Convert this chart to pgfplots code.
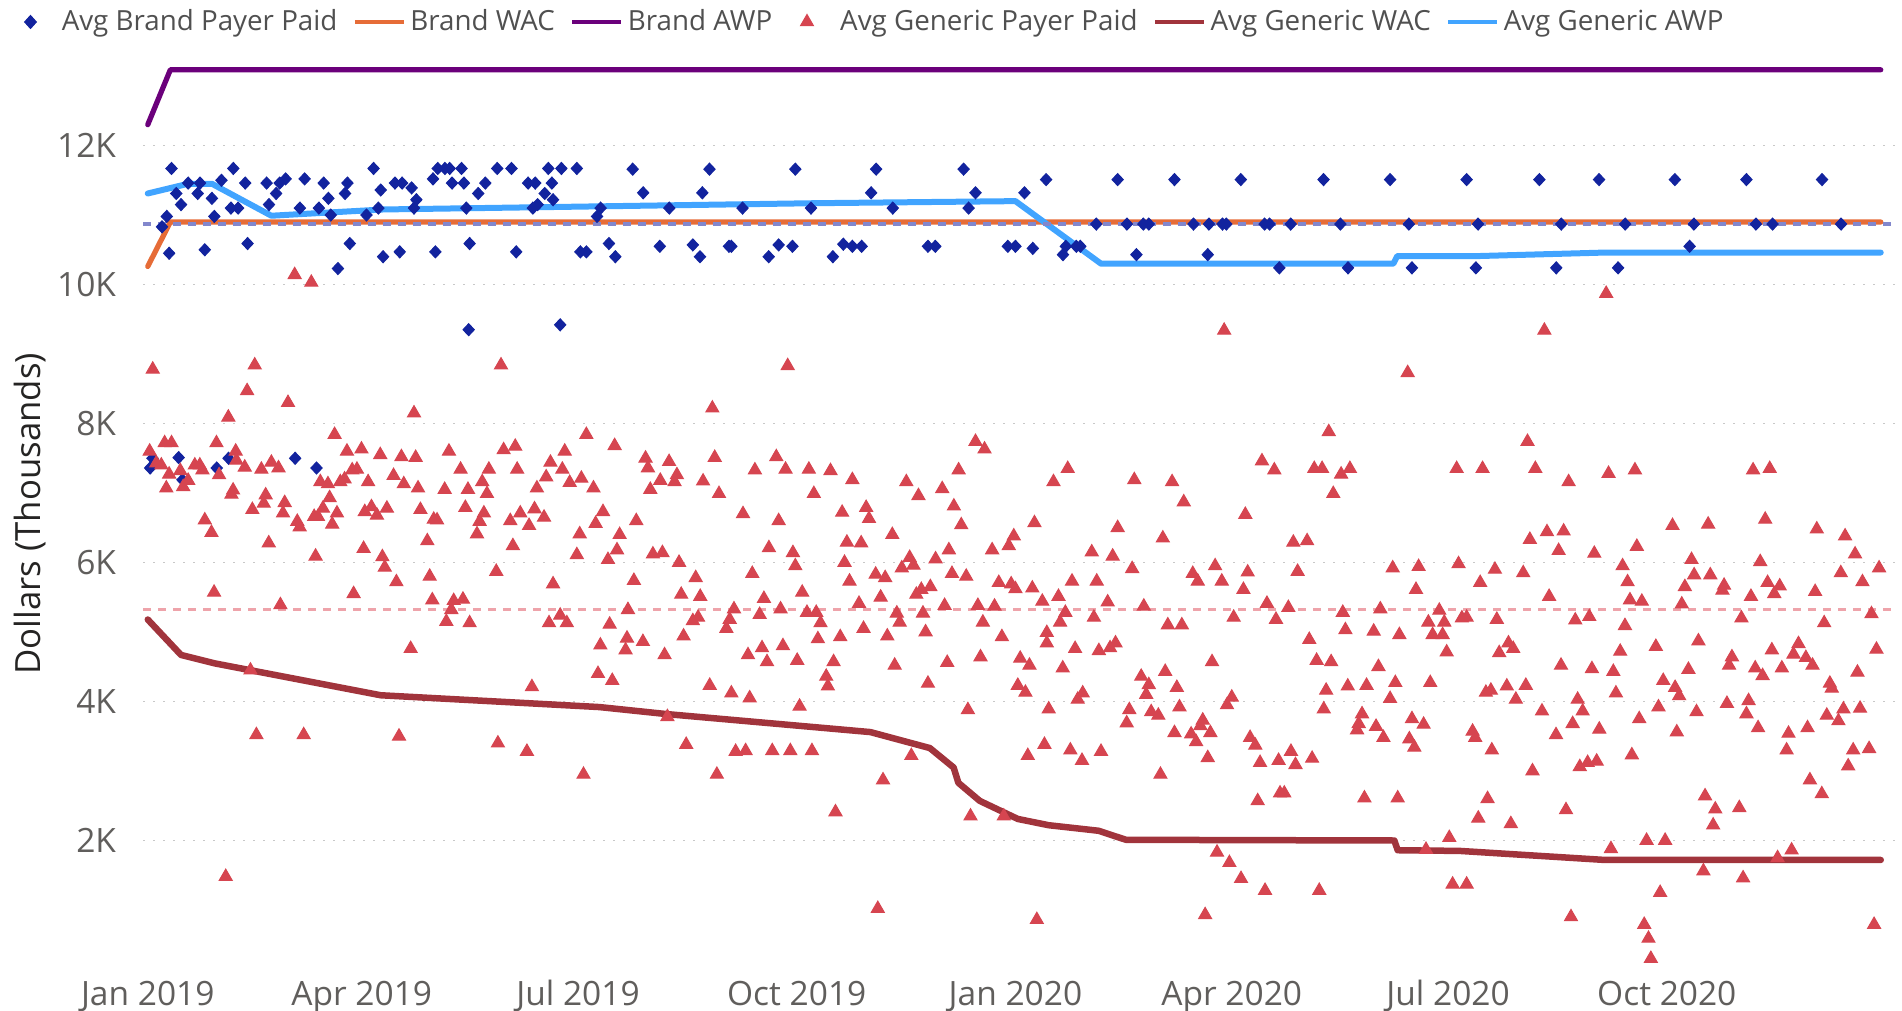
\documentclass[border=0pt]{standalone}
\usepackage{fontspec}
\setmainfont{Open Sans}
\usepackage{pgfplots}
\pgfplotsset{compat=1.18}
\definecolor{navyd}{HTML}{12239E}
\definecolor{orangeb}{HTML}{E66C37}
\definecolor{purpleb}{HTML}{6B007B}
\definecolor{redt}{HTML}{D64550}
\definecolor{darkred}{HTML}{A1343C}
\definecolor{lightblue}{HTML}{41A4FF}
\definecolor{avgblue}{HTML}{8287CC}
\definecolor{avgpink}{HTML}{EEA3AA}
\definecolor{tickgray}{HTML}{605E5C}
\definecolor{legendgray}{HTML}{505050}
\definecolor{titlegray}{HTML}{252423}
\definecolor{gridgray}{HTML}{C8C8C8}
\pgfplotsset{
  legline/.style={legend image code/.code={\draw[##1] (0pt,0pt) -- (19.5pt,0pt);}},
  legdiamond/.style={legend image code/.code={\path[draw=none,fill=none] (0pt,-3pt) rectangle (16.5pt,3pt); \draw[##1] plot coordinates {(6pt,0pt)};}},
  legtriangle/.style={legend image code/.code={\path[draw=none,fill=none] (0pt,-3pt) rectangle (19pt,3pt); \draw[##1] plot coordinates {(7.7pt,0pt)};}},
}
\begin{document}
\begin{tikzpicture}
\path[use as bounding box] (0,0) rectangle (760.8pt,404.4pt);
\begin{axis}[
  at={(57.2pt,12.6pt)}, anchor=south west,
  width=700.8pt, height=372.5pt, scale only axis,
  xmin=-2, xmax=735, ymin=0, ymax=13.4,
  clip=false,
  axis line style={draw=none},
  tick style={draw=none}, major tick length=0pt,
  xtick={0,90,181,273,365,456,547,639},
  xticklabels={Jan 2019,Apr 2019,Jul 2019,Oct 2019,Jan 2020,Apr 2020,Jul 2020,Oct 2020},
  ytick={2,4,6,8,10,12},
  yticklabels={2K,4K,6K,8K,10K,12K},
  ymajorgrids,
  grid style={line width=0.7pt, dash pattern=on 0.7pt off 3.3pt, color=gridgray},
  xticklabel style={anchor=base, yshift=-10.4pt, font=\fontsize{13.4}{16}\selectfont, text=tickgray},
  yticklabel style={anchor=east, inner sep=0pt, xshift=-10.6pt, font=\fontsize{13.4}{16}\selectfont, text=tickgray},
  ylabel={Dollars (Thousands)},
  ylabel style={at={(axis description cs:-0.0645,0.5)}, anchor=center, font=\fontsize{13.9}{16}\selectfont, text=titlegray},
  legend columns=-1,
  legend style={at={(0,1)}, anchor=west, xshift=-51pt, yshift=10.5pt, draw=none, fill=none,
    font=\fontsize{11.1}{13}\selectfont, text=legendgray, inner sep=0pt, outer sep=0pt,
    /tikz/column sep=0pt, /tikz/every even column/.append style={column sep=4.2pt},
    cells={anchor=west}, nodes={inner sep=2pt}},
]
% legend entries
\addlegendimage{only marks, mark=diamond*, mark size=2.6pt, mark options={xscale=1.2}, color=navyd, legdiamond}
\addlegendentry{Avg Brand Payer Paid}
\addlegendimage{line width=1.5pt, color=orangeb, legline}
\addlegendentry{Brand WAC}
\addlegendimage{line width=1.5pt, color=purpleb, legline}
\addlegendentry{Brand AWP}
\addlegendimage{only marks, mark=triangle*, mark size=3pt, color=redt, legtriangle}
\addlegendentry{Avg Generic Payer Paid}
\addlegendimage{line width=1.5pt, color=darkred, legline}
\addlegendentry{Avg Generic WAC}
\addlegendimage{line width=1.5pt, color=lightblue, legline}
\addlegendentry{Avg Generic AWP}

% solid lines
\addplot[forget plot, color=purpleb, line width=2.1pt, line cap=round, line join=round] coordinates {(0,12.30) (9.5,13.09) (729,13.09)};
\addplot[forget plot, color=orangeb, line width=2.1pt, line cap=round, line join=round] coordinates {(0,10.26) (9.5,10.90) (729,10.90)};
\addplot[forget plot, color=lightblue, line width=2.4pt, line cap=round, line join=round] coordinates {
(0,11.31) (17,11.45) (27,11.45) (52,10.99) (99,11.08) (200,11.13) (280,11.17) (365,11.20) (401,10.30) (524,10.30) (525.6,10.41) (560,10.41) (613,10.46) (729,10.46)};
\addplot[forget plot, color=darkred, line width=2.6pt, line cap=round, line join=round] coordinates {
(0,5.18) (14,4.67) (28,4.55) (98,4.09) (190,3.92) (218,3.82) (304,3.56) (329,3.33) (339,3.05) (341,2.83) (350,2.57) (366,2.31) (379,2.22) (400,2.14) (411.5,2.01) (524.4,2.00) (525.8,1.86) (552,1.85) (613,1.72) (729,1.72)};
% average reference lines
\addplot[forget plot, color=avgblue, line width=1.3pt, dash pattern=on 3.2pt off 2.8pt] coordinates {(-2,10.87) (735,10.87)};
\addplot[forget plot, color=avgpink, line width=1.3pt, dash pattern=on 3.2pt off 2.8pt] coordinates {(-2,5.32) (735,5.32)};

% Avg Brand Payer Paid
\addplot[forget plot, only marks, mark=diamond*, mark size=2.4pt, mark options={xscale=1.25}, color=navyd] coordinates {
(10,11.67) (8,10.98) (6,10.83) (9,10.45) (12,11.31) (14,11.15) (17,11.46) (21,11.31) (22,11.46) (27,11.24)
(28,10.98) (24,10.50) (31,11.50) (36,11.67) (35,11.10) (38,11.10) (41,11.46) (42,10.59) (50,11.46) (51,11.15)
(54,11.31) (55.5,11.46) (58,11.52) (64,11.10) (66,11.52) (72,11.10) (74,11.46) (76,11.24) (77,11.00) (80,10.23)
(83,11.31) (84,11.46) (85,10.59) (92,11.00) (95,11.67) (97,11.10) (98,11.36) (99,10.40) (104,11.46) (107,11.46)
(106,10.47) (111,11.39) (113,11.22) (112,11.10) (120,11.52) (121,10.47) (122,11.67) (125,11.67) (127,11.67) (128,11.46)
(132,11.67) (133,11.46) (134,11.10) (135,9.35) (135.4,10.59) (139,11.31) (142,11.46) (147,11.67) (153,11.67) (155,10.47)
(160,11.46) (163,11.46) (162,11.10) (164,11.15) (167,11.31) (168.5,11.67) (170,11.46) (170.5,11.22) (174,11.67) (173.5,9.42)
(180.5,11.67) (182,10.47) (184.5,10.47) (189,10.98) (190.5,11.10) (194,10.59) (196.7,10.40) (204,11.66)
(1,7.36) (2,7.50) (13,7.51) (14.6,7.19) (29,7.36) (34,7.50) (62,7.50) (71,7.36)
(208.4,11.32) (215.4,10.55) (219.4,11.10) (229.3,10.57) (232.3,10.40) (233.3,11.32) (236.3,11.66) (244.5,10.55) (245.5,10.55) (250.2,11.10)
(261.2,10.40) (265.4,10.57) (271.2,10.55) (272.4,11.66) (279,11.10) (288.2,10.40) (292.6,10.58) (296.4,10.55) (300.3,10.55) (304.3,11.32)
(306.4,11.66) (313.4,11.10) (328.2,10.55) (331.3,10.55) (343.2,11.66) (345.3,11.10) (348.2,11.32) (361.8,10.55) (365,10.55) (368.8,11.32)
(372.3,10.52) (377.9,11.51) (385,10.43) (386.2,10.55) (390.6,10.55) (392.3,10.55) (399,10.87) (408,11.51) (411.9,10.87) (415.9,10.43)
(418.8,10.87) (421.1,10.87) (431.9,11.51) (439.9,10.87) (446.4,10.87) (445.9,10.43) (452.1,10.87) (453.7,10.87) (459.8,11.51)
(469.8,10.87) (471.9,10.87) (480.8,10.87) (476,10.24) (494.6,11.51) (501.7,10.87) (504.9,10.24) (522.6,11.51) (530.5,10.87) (531.8,10.24)
(554.8,11.51) (559.6,10.87) (558.7,10.24) (585.4,11.51) (594.6,10.87) (592.5,10.24) (610.5,11.51) (618.5,10.24) (621.5,10.87) (642.4,11.51)
(648.6,10.55) (650.4,10.87) (672.5,11.51) (676.5,10.87) (683.5,10.87) (704.3,11.51) (712.3,10.87)
};

% Avg Generic Payer Paid
\addplot[forget plot, only marks, mark=triangle*, mark size=3pt, color=redt] coordinates {
(2.1,8.78) (45,8.84) (41.8,8.47) (59,8.30) (33.9,8.09) (112,8.15) (148.6,8.84) (237.5,8.22) (269.2,8.83) (61.8,10.14)
(68.8,10.03) (32.8,1.48) (452.8,9.34) (530,8.73) (587.5,9.34) (613.5,9.87)
(78.6,7.84) (184.5,7.84) (196.4,7.68) (0.8,7.60) (7.1,7.72) (10,7.72) (28.9,7.72) (37,7.60) (83.8,7.60) (89.9,7.63)
(97.8,7.55) (106.7,7.52) (112.7,7.51) (126.7,7.60) (149.7,7.62) (154.6,7.67) (175.4,7.60) (3.6,7.43) (5.7,7.40) (13.7,7.32)
(9,7.27) (19.8,7.40) (21.9,7.40) (23,7.33) (30,7.26) (37.3,7.47) (40.8,7.37) (47.8,7.34) (52,7.44) (55,7.36)
(86,7.33) (88,7.34) (103.4,7.25) (131.6,7.34) (143.5,7.34) (155.4,7.34) (169.4,7.44) (167.6,7.23) (174.4,7.34) (182.4,7.21)
(177.5,7.15) (7.8,7.07) (14.9,7.09) (17,7.18) (35.9,7.04) (35.2,6.98) (49.6,6.97) (48.8,6.85) (44,6.76) (57.6,6.86)
(56.9,6.71) (62.9,6.59) (63.9,6.51) (72.6,7.16) (75.8,7.13) (81,7.16) (82.8,7.20) (92.7,7.16) (76.5,6.93) (73.7,6.78)
(79.6,6.71) (70,6.66) (71.6,6.66) (77.6,6.55) (91.3,6.73) (94.1,6.80) (96.4,6.68) (100.6,6.78) (107.7,7.13) (113.7,7.07)
(114.7,6.76) (124.9,7.05) (134.7,7.05) (140.7,7.16) (142.7,6.99) (133.6,6.79) (141.4,6.71) (139.6,6.59) (138.5,6.41) (120.3,6.62)
(121.7,6.61) (117.6,6.31) (152.5,6.60) (156.7,6.71) (160.4,6.53) (162.7,6.77) (166.7,6.65) (153.6,6.24) (163.7,7.07) (181.7,6.41)
(180.5,6.11) (187.5,7.07) (188.4,6.56) (191.5,6.73) (193.6,6.04) (197.4,6.18) (198.5,6.40) (24,6.61) (26.8,6.43) (50.9,6.28)
(70.6,6.09) (90.8,6.20) (98.7,6.08) (99.7,5.93) (104.6,5.72) (118.6,5.80) (146.6,5.87) (170.5,5.69) (27.9,5.57) (55.8,5.39)
(86.6,5.55) (119.7,5.46) (128.7,5.45) (132.6,5.47) (127.7,5.32) (125.6,5.15) (135.4,5.13) (168.8,5.13) (173.5,5.24) (176.3,5.13)
(194.3,5.11) (202,5.32) (201.6,4.91) (201,4.74) (190.4,4.81) (189.4,4.40) (195.4,4.30) (110.6,4.76) (43.2,4.45) (161.6,4.21)
(45.7,3.52) (65.6,3.52) (105.7,3.50) (147.3,3.40) (159.5,3.28) (183.3,2.95)
(348.2,7.74) (352,7.63) (209.4,7.50) (210.4,7.36) (219.3,7.45) (222.6,7.26) (215.6,7.18) (221.6,7.16) (211.4,7.05) (233.6,7.17)
(238.5,7.51) (240.3,6.99) (255.4,7.33) (264.4,7.52) (268.3,7.34) (278.1,7.34) (280.2,6.99) (287.2,7.32) (296.4,7.19) (319.1,7.16)
(324.2,6.96) (334.2,7.06) (341.1,7.33) (339.1,6.81) (342.2,6.54) (205.5,6.60) (212.5,6.12) (216.5,6.14) (223.5,6.00) (230.5,5.78)
(224.4,5.54) (232.4,5.51) (204.5,5.74) (208.3,4.86) (217.4,4.67) (225.4,4.94) (229.3,5.16) (231.5,5.21) (236.4,4.23) (245.5,4.12)
(253.2,4.05) (250.4,6.70) (265.4,6.60) (261.3,6.21) (271.4,6.14) (272.4,5.95) (254.3,5.84) (275.3,5.57) (259.2,5.48) (266.2,5.33)
(257.4,5.25) (246.6,5.33) (244.8,5.18) (243.4,5.05) (277.3,5.28) (281.2,5.28) (283,5.13) (281.9,4.90) (267.2,4.80) (258.4,4.77)
(252.5,4.67) (260.5,4.57) (273.2,4.59) (291.3,4.93) (288.5,4.57) (285.4,4.36) (286.1,4.22) (274.2,3.93) (292.1,6.72) (302.2,6.79)
(303.4,6.63) (294.1,6.29) (300.1,6.28) (293.1,6.00) (295.2,5.73) (313.2,6.40) (306.2,5.83) (310.2,5.78) (299.2,5.41) (308.3,5.50)
(315.1,5.27) (316.3,5.14) (301.1,5.05) (311.1,4.94) (314.2,4.52) (317.2,5.92) (320.5,6.07) (322.1,5.96) (323.3,5.54) (325.4,5.61)
(329.2,5.65) (331.4,6.05) (337,6.18) (338.3,5.84) (344.3,5.80) (326.1,5.27) (327.2,5.00) (335.2,5.38) (328.2,4.26) (336.3,4.56)
(349.2,5.38) (351.3,5.14) (356.2,5.37) (350.3,4.64) (359.3,4.93) (355.2,6.18) (362.2,6.24) (364.3,6.38) (358,5.71) (363.2,5.69)
(365,5.62) (372.1,5.63) (373,6.57) (376.3,5.44) (367,4.62) (370.9,4.52) (366,4.23) (369.2,4.13) (345,3.88) (378.2,4.99)
(378.2,4.84) (379,3.89) (377.2,3.38) (370.2,3.22) (218.6,3.78) (226.5,3.38) (239.4,2.95) (247.3,3.28) (251.5,3.29) (262.7,3.29)
(270.3,3.29) (279.4,3.29) (289.3,2.41) (309.3,2.87) (321.2,3.22) (346.1,2.35) (360.1,2.35) (307.1,1.02) (374,0.86)
(496.8,7.88) (468.7,7.46) (473.9,7.33) (490.7,7.35) (494,7.35) (502,7.27) (505.7,7.35) (498.7,6.99) (387,7.35) (381,7.16)
(415,7.19) (430.9,7.16) (435.8,6.87) (461.7,6.69) (550.6,7.35) (408,6.50) (427,6.35) (481.9,6.29) (487.7,6.31) (397.1,6.15)
(405.9,6.09) (414.1,5.91) (483.7,5.87) (439.6,5.84) (441.7,5.73) (449,5.95) (451.8,5.73) (462.7,5.86) (460.9,5.61) (388.8,5.73)
(399.2,5.73) (523.7,5.92) (534.6,5.94) (533.5,5.61) (551.4,5.98) (383.1,5.51) (403.8,5.43) (419,5.37) (386,5.28) (383.8,5.14)
(398,5.21) (429.1,5.10) (435,5.10) (456.8,5.21) (470.8,5.41) (474.6,5.18) (479.8,5.35) (502.7,5.28) (503.8,5.03) (515.7,5.01)
(518.5,5.33) (526.5,4.96) (538.7,5.14) (543.3,5.31) (545.4,5.14) (540.5,4.96) (544.7,4.96) (546.4,4.71) (552.8,5.20) (554.8,5.21)
(390.1,4.76) (400.1,4.73) (404.8,4.77) (407.1,4.84) (384.9,4.48) (447.7,4.57) (488.6,4.89) (491.7,4.59) (497.8,4.57) (517.7,4.50)
(539.5,4.27) (417.9,4.36) (421.1,4.24) (428,4.43) (432.9,4.20) (420,4.10) (422.1,3.85) (425.1,3.80) (434,3.92) (412.9,3.88)
(411.8,3.69) (391.2,4.03) (393.3,4.12) (454,3.95) (456,4.06) (495.7,4.16) (494.7,3.89) (504.8,4.22) (512.7,4.23) (524.8,4.27)
(522.6,4.04) (510.8,3.82) (509.4,3.68) (508.7,3.59) (516.7,3.64) (519.8,3.48) (531.8,3.75) (536.7,3.67) (530.7,3.46) (532.8,3.34)
(431.9,3.55) (438.9,3.53) (441,3.42) (443.8,3.73) (442.8,3.65) (447,3.55) (445.9,3.19) (463.7,3.48) (465.9,3.37) (467.9,3.12)
(475.7,3.15) (480.9,3.28) (482.8,3.09) (489.8,3.18) (388.1,3.30) (393,3.15) (401,3.28) (426,2.95) (466.9,2.57) (476.3,2.68)
(478.1,2.68) (511.8,2.61) (525.8,2.61) (547.5,2.04) (537.7,1.87) (449.8,1.83) (455,1.68) (459.9,1.45) (470,1.28) (492.8,1.28)
(444.8,0.93) (548.9,1.37) (554.8,1.37)
(580.4,7.74) (561.5,7.35) (583.7,7.35) (597.7,7.16) (614.5,7.28) (625.6,7.33) (675.3,7.33) (682.3,7.35) (680.4,6.62) (641.4,6.53)
(656.4,6.55) (702.1,6.48) (714,6.38) (718.2,6.12) (588.6,6.44) (595.6,6.45) (581.4,6.33) (593.5,6.17) (608.5,6.13) (626.4,6.23)
(566.7,5.90) (560.5,5.71) (578.6,5.85) (589.5,5.51) (620.4,5.95) (622.5,5.72) (623.5,5.46) (628.5,5.44) (649.4,6.04) (650.5,5.82)
(657.3,5.82) (646.6,5.65) (645.3,5.40) (663.1,5.67) (662.4,5.60) (674.4,5.51) (678.3,6.01) (681.4,5.71) (686.5,5.66) (684.2,5.55)
(701.4,5.58) (712.2,5.85) (721.3,5.72) (728.3,5.92) (567.5,5.18) (600.5,5.17) (606.4,5.22) (621.4,5.09) (670.4,5.20) (705.2,5.13)
(725.1,5.26) (572.4,4.84) (574.4,4.76) (568.5,4.70) (619.4,4.72) (634.4,4.79) (652.3,4.87) (648.1,4.46) (666.4,4.64) (665.2,4.52)
(676.2,4.48) (679.3,4.37) (683.2,4.74) (687.4,4.48) (694.4,4.83) (692.3,4.68) (697.5,4.63) (700.3,4.52) (719.2,4.42) (727.2,4.75)
(594.5,4.52) (607.5,4.47) (616.5,4.43) (562.9,4.13) (565,4.16) (571.7,4.22) (579.7,4.23) (575.5,4.03) (601.5,4.03) (586.5,3.86)
(603.6,3.86) (599.4,3.68) (617.6,4.12) (637.5,4.30) (642.5,4.20) (644.2,4.08) (635.5,3.92) (627.4,3.75) (651.5,3.85) (643.2,3.56)
(664.3,3.97) (673.4,4.01) (672.5,3.82) (677.4,3.62) (707.6,4.26) (708.4,4.19) (706.3,3.80) (713.3,3.89) (711.2,3.72) (720.3,3.90)
(690.2,3.54) (689.4,3.30) (698.2,3.62) (717.4,3.30) (724.1,3.32) (715.3,3.07) (557.3,3.57) (558.4,3.48) (565.4,3.30) (592.4,3.52)
(610.6,3.60) (602.4,3.06) (605.7,3.12) (609.5,3.14) (624.3,3.23) (582.5,3.00) (699.2,2.87) (704.2,2.67) (563.6,2.60) (559.7,2.32)
(573.4,2.24) (596.6,2.44) (655.1,2.64) (659.4,2.45) (658.5,2.22) (669.5,2.47) (615.5,1.88) (630.5,2.00) (638.3,2.00) (685.6,1.75)
(691.5,1.86) (654.4,1.56) (671.1,1.46) (636.2,1.25) (598.7,0.90) (629.5,0.79) (631.3,0.59) (632.3,0.30) (726.2,0.79)
};
\end{axis}
\end{tikzpicture}
\end{document}
